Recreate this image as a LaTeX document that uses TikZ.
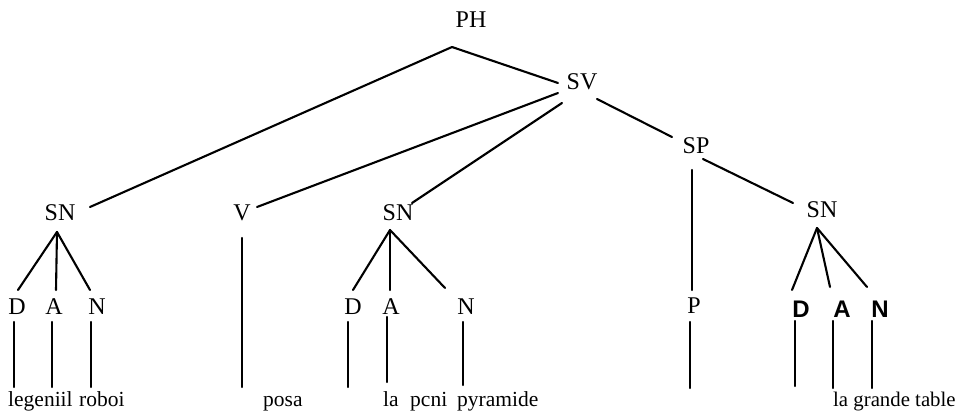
\documentclass[tikz,border=0pt]{standalone}
\usepackage{fontspec}
\setmainfont{Liberation Serif}
\newfontfamily\boldsans{Liberation Sans}
\begin{document}
\begin{tikzpicture}[x=1pt,y=-1pt,
  cat/.style={inner sep=0pt,font=\fontsize{24}{24}\selectfont},
  catb/.style={inner sep=0pt,font=\boldsans\bfseries\fontsize{24}{24}\selectfont},
  word/.style={inner sep=0pt,anchor=base west,font=\fontsize{21.5}{21.5}\selectfont},
  edge/.style={line width=2.1pt,line cap=round}]
\useasboundingbox (0,0) rectangle (960,414);
% category labels
\node[cat] (ph)  at (471,20)  {PH};
\node[cat] (sv)  at (582,82)  {SV};
\node[cat] (sp)  at (696,146) {SP};
\node[cat] (sn1) at (60,213)  {SN};
\node[cat] (v)   at (242,213) {V};
\node[cat] (sn2) at (398,213) {SN};
\node[cat] (sn3) at (822,210) {SN};
\node[cat] (d1)  at (17,307)  {D};
\node[cat] (a1)  at (54,307)  {A};
\node[cat] (n1)  at (97,307)  {N};
\node[cat] (d2)  at (353,307) {D};
\node[cat] (a2)  at (391,307) {A};
\node[cat] (n2)  at (466,307) {N};
\node[cat] (p)   at (694,306) {P};
\node[catb] (d3) at (801,309) {D};
\node[catb] (a3) at (842,309) {A};
\node[catb] (n3) at (880,309) {N};
% words
\node[word] (w1) at (8,406)   {legeniil};
\node[word] (w2) at (79,406)  {roboi};
\node[word] (w3) at (263,406) {posa};
\node[word] (w4) at (383,406) {la};
\node[word] (w5) at (410,406) {pcni};
\node[word] (w6) at (457,406) {pyramide};
\node[word,font=\fontsize{20.8}{20.8}\selectfont] (w7) at (833,406) {la grande table};
% lower ends of the lexical branches
\coordinate (d1e) at (14,387);
\coordinate (a1e) at (52,387);
\coordinate (n1e) at (91,387);
\coordinate (ve)  at (242,387);
\coordinate (d2e) at (348,387);
\coordinate (a2e) at (387,382);
\coordinate (n2e) at (463,385);
\coordinate (pe)  at (690,388);
\coordinate (d3e) at (795,386);
\coordinate (a3e) at (833,388);
\coordinate (n3e) at (872,388);
% upper branches
\draw[edge] ([shift={(-19,27)}]ph.center) -- ([shift={(30,-6)}]sn1.center);
\draw[edge] ([shift={(-19,27)}]ph.center) -- ([shift={(-24,1)}]sv.center);
\draw[edge] ([shift={(-24,11)}]sv.center) -- ([shift={(15,-6)}]v.center);
\draw[edge] ([shift={(-20,21)}]sv.center) -- ([shift={(14,-10)}]sn2.center);
\draw[edge] ([shift={(15,17)}]sv.center) -- ([shift={(-24,-9)}]sp.center);
\draw[edge] ([shift={(-4,24)}]sp.center) -- ([shift={(-2,-16)}]p.center);
\draw[edge] ([shift={(7,13)}]sp.center) -- ([shift={(-29,-7)}]sn3.center);
% noun phrase branches
\draw[edge] ([shift={(-3,19)}]sn1.center) -- ([shift={(1,-17)}]d1.center);
\draw[edge] ([shift={(-3,19)}]sn1.center) -- ([shift={(2,-17)}]a1.center);
\draw[edge] ([shift={(-3,19)}]sn1.center) -- ([shift={(-7,-17)}]n1.center);
\draw[edge] ([shift={(-8,17)}]sn2.center) -- ([shift={(0,-17)}]d2.center);
\draw[edge] ([shift={(-8,17)}]sn2.center) -- ([shift={(-1,-17)}]a2.center);
\draw[edge] ([shift={(-8,17)}]sn2.center) -- ([shift={(-21,-19)}]n2.center);
\draw[edge] ([shift={(-5,18)}]sn3.center) -- ([shift={(-9,-19)}]d3.center);
\draw[edge] ([shift={(-5,18)}]sn3.center) -- ([shift={(-12,-22)}]a3.center);
\draw[edge] ([shift={(-5,18)}]sn3.center) -- ([shift={(-13,-22)}]n3.center);
% lexical branches
\draw[edge] ([shift={(-3,15)}]d1.center) -- (d1e);
\draw[edge] ([shift={(-2,15)}]a1.center) -- (a1e);
\draw[edge] ([shift={(-6,15)}]n1.center) -- (n1e);
\draw[edge] ([shift={(0,25)}]v.center) -- (ve);
\draw[edge] ([shift={(-5,15)}]d2.center) -- (d2e);
\draw[edge] ([shift={(-4,10)}]a2.center) -- (a2e);
\draw[edge] ([shift={(-3,15)}]n2.center) -- (n2e);
\draw[edge] ([shift={(-4,16)}]p.center) -- (pe);
\draw[edge] ([shift={(-6,12)}]d3.center) -- (d3e);
\draw[edge] ([shift={(-9,12)}]a3.center) -- (a3e);
\draw[edge] ([shift={(-8,12)}]n3.center) -- (n3e);
\end{tikzpicture}
\end{document}
